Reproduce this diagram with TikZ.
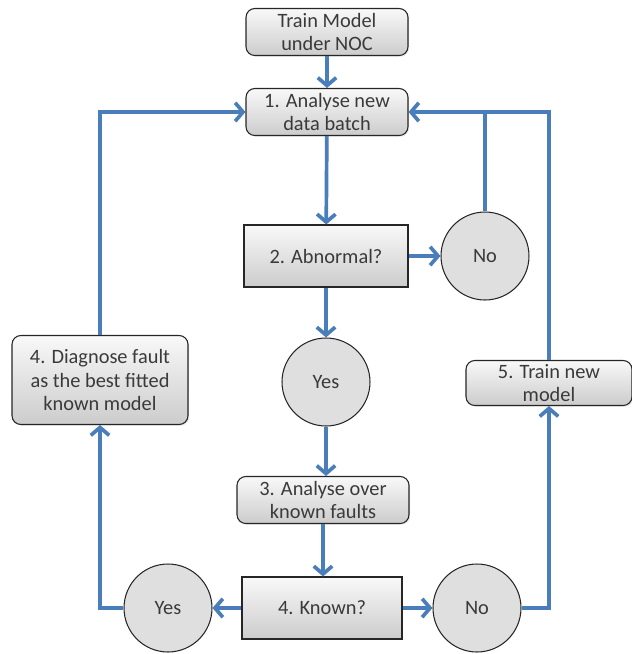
\documentclass[tikz,border=0pt]{standalone}
\usepackage{fontspec}
\setmainfont{Carlito}
\usepackage{xcolor}
\definecolor{flow}{HTML}{4A7EBB}
\definecolor{ink}{HTML}{3A3A3A}
\usetikzlibrary{arrows.meta, shadows}

\begin{document}
\begin{tikzpicture}[x=0.02cm, y=-0.02cm,
  font=\fontsize{11.6}{13.3}\selectfont, text=ink,
  box/.style={draw=black!85, line width=0.6pt, top color=gray!5, bottom color=gray!40,
    align=center, inner sep=1pt,
    drop shadow={opacity=0.18, shadow xshift=0.7pt, shadow yshift=-0.7pt}},
  stepbox/.style={box, rounded corners=5pt, minimum height=0.94cm},
  testbox/.style={box, minimum height=1.24cm},
  answer/.style={circle, draw=black!85, line width=0.6pt, fill=gray!25,
    minimum size=1.76cm, inner sep=0pt},
  flowline/.style={flow, line width=2.1pt},
  flowarrow/.style={flowline, -{Straight Barb[length=4.5pt, width=10.5pt]}}]
  % page = 632 x 654 px, one unit = one px of the reference
  \useasboundingbox (0,0) rectangle (632,654);
  % Main column.
  \node[stepbox, minimum width=3.24cm] (train)    at (327,32)  {Train Model\\under NOC};
  \node[stepbox, minimum width=3.24cm] (analyse)  at (327,112) {1. Analyse new\\data batch};
  \node[testbox, minimum width=3.28cm] (abnormal) at (326,256) {2. Abnormal?};
  \node[answer]                        (noA)      at (485,256) {No};
  \node[answer]                        (yesA)     at (326,382) {Yes};
  \node[stepbox, minimum width=3.44cm] (over)     at (323,500) {3. Analyse over\\known faults};
  \node[testbox, minimum width=3.2cm]  (known)    at (322,608) {4. Known?};
  % Outcomes of the second test.
  \node[answer]                        (yesB)     at (168,608) {Yes};
  \node[answer]                        (noB)      at (477,608) {No};
  \node[stepbox, minimum width=3.52cm, minimum height=1.78cm] (diagnose) at (100,380)
    {4. Diagnose fault\\as the best fitted\\known model};
  \node[stepbox, minimum width=3.32cm, minimum height=0.9cm]  (trainnew) at (549,383)
    {5. Train new\\model};
  % Connectors down the column.
  \draw[flowarrow] (train) -- (analyse);
  \draw[flowarrow] (analyse) -- (abnormal);
  \draw[flowarrow] (abnormal) -- (noA);
  \draw[flowarrow] (abnormal) -- (yesA);
  \draw[flowarrow] (yesA) -- (yesA |- over.north);
  \draw[flowarrow] (over) -- (over |- known.north);
  \draw[flowarrow] (known) -- (yesB);
  \draw[flowarrow] (known) -- (noB);
  % Loops back to step 1.
  \draw[flowline]  (noA) -- (noA |- analyse.east);
  \draw[flowarrow] (yesB) -| (diagnose);
  \draw[flowarrow] (diagnose) |- (analyse);
  \draw[flowarrow] (noB) -| (trainnew);
  \draw[flowarrow] (trainnew) |- (analyse);
\end{tikzpicture}
\end{document}
